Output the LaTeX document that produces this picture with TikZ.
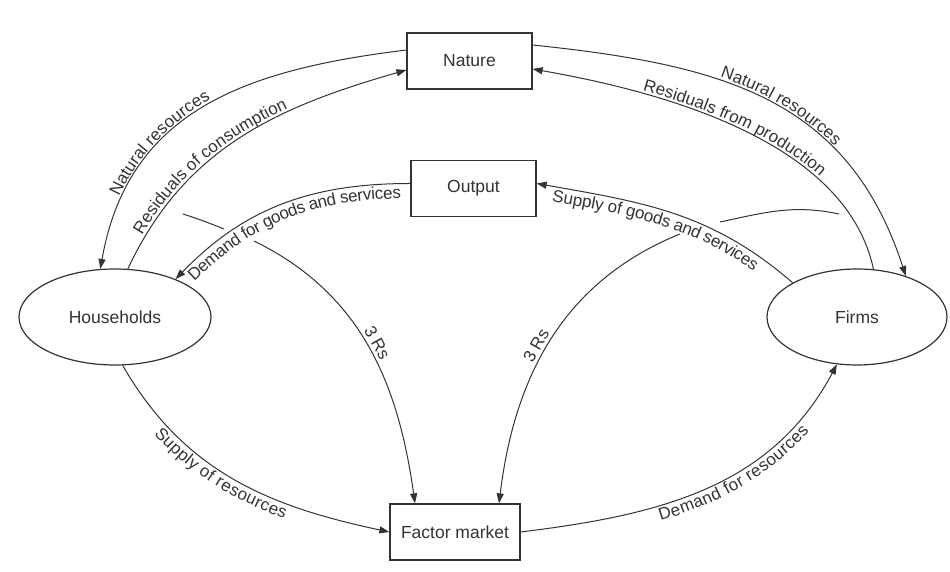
\documentclass[tikz,border=0pt]{standalone}
\usepackage{fontspec}
\setsansfont{Liberation Sans}
\usetikzlibrary{arrows.meta,shapes.geometric,decorations.text}
\colorlet{ink}{black!80}
\newcommand\flowfont{\sffamily\fontsize{17}{20}\selectfont}
\newcommand\nodefont{\sffamily\fontsize{17.5}{20}\selectfont}
\tikzset{
  box/.style={draw=ink,line width=1.2pt,minimum width=125pt,minimum height=56pt,inner sep=0pt,font=\nodefont,text=ink},
  agent/.style={ellipse,draw=ink,line width=1.2pt,minimum width=192pt,minimum height=96pt,inner sep=0pt,font=\nodefont,text=ink},
  flow/.style={draw=ink,line width=1pt},
  lbl/.style n args={3}{postaction={decorate,decoration={text along path,text color=ink,raise=#2,
      text align={left indent=#1},text={|\flowfont|#3}}}},
  rlbl/.style={sloped,above,font=\flowfont,text=ink}
}
\begin{document}
\begin{tikzpicture}[x=1pt,y=1pt,>={Triangle[length=10pt,width=7pt]}]
\useasboundingbox (0,0) rectangle (950,572);

\node[box] (nature) at (469.5,511) {Nature};
\node[box] (output) at (473.5,383.5) {Output};
\node[box,minimum width=130pt] (factor) at (455,40) {Factor market};
\node[agent] (households) at (115,255) {Households};
\node[agent,minimum width=180pt] (firms) at (857,255) {Firms};

% 3 Rs, drawn in two pieces where they pass under the goods flows
\coordinate (rsl) at (183,358);
\coordinate (rslcut) at (224,343);
\coordinate (rslgo) at (254,331);
\draw[flow] (rsl) to[out=-18,in=158] (rslcut);
\draw[flow,->] (rslgo) to[out=-26,in=98] node[rlbl,pos=0.5] {3 Rs} ([xshift=-40pt]factor.north);

\coordinate (rsr) at (839,358);
\coordinate (rsrcut) at (720,350);
\coordinate (rsrgo) at (680,338);
\draw[flow] (rsr) to[out=168,in=12] (rsrcut);
\draw[flow,<-] ([xshift=44pt]factor.north) to[out=83,in=202] node[rlbl,pos=0.46] {3 Rs} (rsrgo);

% nature
\draw[flow,<-,lbl={74pt}{3pt}{Natural resources}] (households.107) to[out=80,in=187,looseness=1.1] ([yshift=11pt]nature.west);
\draw[flow,->,lbl={36pt}{3pt}{Residuals of consumption}] (households.75) to[out=65,in=196] ([yshift=-9pt]nature.west);
\draw[flow,->,lbl={190pt}{3pt}{Natural resources}] ([yshift=16pt]nature.east) to[out=-6,in=108,looseness=1.1] (firms.40);
\draw[flow,<-,lbl={112pt}{3pt}{Residuals from production}] ([yshift=-8pt]nature.east) to[out=-10,in=102,looseness=0.85] (firms.71);

% output
\draw[flow,<-,lbl={12pt}{-15pt}{Demand for goods and services}] (households.32) to[out=46,in=180] ([yshift=5pt]output.west);
\draw[flow,<-,lbl={18pt}{-15pt}{Supply of goods and services}] ([yshift=5pt]output.east) to[out=-10,in=139] (firms.152);

% factor market
\draw[flow,->,lbl={72pt}{-15pt}{Supply of resources}] (households.-81) to[out=-60,in=168] (factor.west);
\draw[flow,->,lbl={138pt}{-15pt}{Demand for resources}] (factor.east) to[out=7,in=242] (firms.-113);
\end{tikzpicture}
\end{document}
